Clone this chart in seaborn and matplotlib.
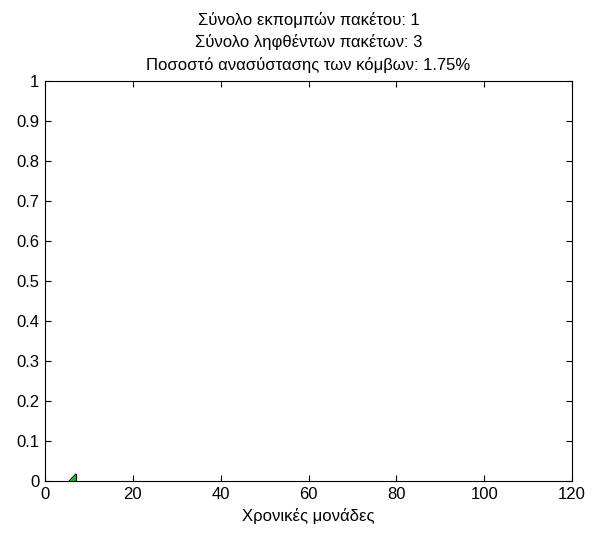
import matplotlib
matplotlib.use("Agg")
import matplotlib.pyplot as plt
import seaborn as sns
import pandas as pd

# data
time_units = [5.5, 7.0]
recovery = [0.0, 0.0175]
title_lines = ["Σύνολο εκπομπών πακέτου: 1",
               "Σύνολο ληφθέντων πακέτων: 3",
               "Ποσοστό ανασύστασης των κόμβων: 1.75%"]
xlabel = "Χρονικές μονάδες"
xticks = [0, 20, 40, 60, 80, 100, 120]
yticks = [0, 0.1, 0.2, 0.3, 0.4, 0.5, 0.6, 0.7, 0.8, 0.9, 1]
ytick_labels = ["0", "0.1", "0.2", "0.3", "0.4", "0.5", "0.6", "0.7", "0.8", "0.9", "1"]

sns.set_style("ticks")
plt.rcParams['font.family'] = ['Liberation Sans', 'DejaVu Sans']
plt.rcParams['text.color'] = 'black'
plt.rcParams['axes.labelcolor'] = 'black'

fig = plt.figure(figsize=(5.98, 5.38), dpi=100)
ax = fig.add_axes([45/598, 1 - 481/538, 527/598, 400/538])

df = pd.DataFrame({"t": time_units, "r": recovery})
ax.fill_between(df["t"], df["r"], 0, color="#00c800", linewidth=0)
sns.lineplot(data=df, x="t", y="r", ax=ax, color="black", linewidth=0.8)
ax.plot([time_units[-1], time_units[-1]], [0, recovery[-1]], color="black", linewidth=0.8)

ax.set_xlim(0, 120)
ax.set_ylim(0, 1)
ax.set_xticks(xticks)
ax.set_xticklabels([str(v) for v in xticks])
ax.set_yticks(yticks)
ax.set_yticklabels(ytick_labels)
ax.tick_params(direction="in", top=True, right=True, length=4.5, width=0.8,
               labelsize=12, colors="black", pad=4)
for s in ax.spines.values():
    s.set_visible(True)
    s.set_color("black")
    s.set_linewidth(0.8)
ax.set_xlabel(xlabel, fontsize=12, labelpad=5, color="black")
ax.set_ylabel("")
ax.set_title("\n".join(title_lines), fontsize=12, linespacing=1.5, pad=8, color="black")

fig.savefig("out.png", dpi=100, facecolor="white")
